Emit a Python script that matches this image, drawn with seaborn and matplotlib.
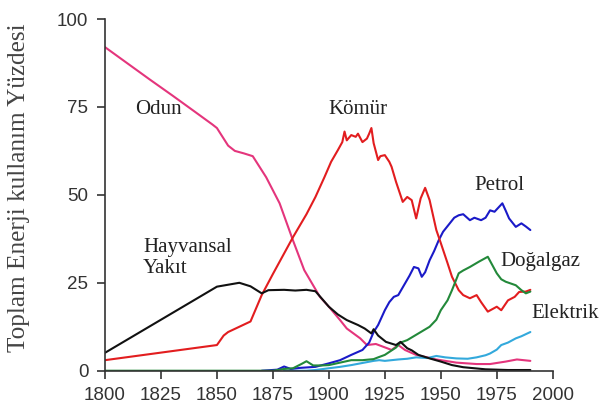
import pandas as pd
import matplotlib
matplotlib.use("Agg")
import matplotlib.pyplot as plt
import seaborn as sns

# Odun (wood)
odun_years = [1800, 1810, 1820, 1830, 1840, 1848, 1850, 1855, 1858, 1862, 1866, 1872,
              1878, 1884, 1889, 1896, 1900, 1905, 1908, 1914, 1917, 1921, 1926, 1928,
              1931, 1934, 1939, 1948, 1957, 1966, 1972, 1979, 1984, 1990]
odun_vals = [92, 87.4, 82.8, 78.3, 73.7, 70, 69, 64, 62.5, 61.8, 61, 55,
             47.6, 37, 28.6, 21, 18.2, 14.4, 12, 9.2, 7.3, 7.6, 6.4, 5.9,
             7.3, 5.9, 4.5, 3.2, 2.3, 1.9, 1.9, 2.6, 3.2, 2.8]

# Komur (coal)
komur_years = [1800, 1850, 1853, 1855, 1860, 1865, 1870, 1875, 1878, 1884, 1890, 1894,
               1898, 1901, 1904, 1906, 1907, 1908, 1910, 1912, 1913, 1915, 1917, 1918,
               1919, 1920, 1922, 1923, 1925, 1927, 1928, 1930, 1933, 1935, 1937, 1939,
               1941, 1943, 1945, 1948, 1950, 1953, 1955, 1958, 1960, 1963, 1966, 1968,
               1971, 1975, 1977, 1980, 1983, 1985, 1988, 1990]
komur_vals = [3, 7.3, 10, 11, 12.5, 14, 21.5, 27.5, 31, 38, 44.5, 49.4,
              55, 59.4, 62.7, 65, 68, 65.5, 67, 66.5, 67.4, 65, 66, 67.4,
              69, 64.7, 59.9, 61, 61.3, 59.4, 58, 53.7, 48, 49.4, 48.5, 43.3,
              49, 52, 48.5, 40, 36.3, 30.6, 26.7, 22.9, 21.5, 20.6, 21.5, 19.5,
              16.8, 18.2, 17.2, 20, 21, 22.4, 22.5, 23]

# Hayvansal yakit (animal feed)
hayvan_years = [1800, 1850, 1860, 1865, 1870, 1873, 1880, 1885, 1890, 1894, 1900, 1904,
                1908, 1913, 1916, 1919, 1920, 1922, 1925.5, 1930, 1932, 1935, 1937,
                1940, 1945, 1950, 1955, 1960, 1970, 1980, 1990]
hayvan_vals = [5.1, 23.9, 25, 24, 22, 22.9, 23, 22.8, 23, 22.6, 18.2, 16,
               14.4, 13, 12, 10.6, 11.8, 10, 8.2, 7.3, 8.2, 6.4, 5.8,
               4.5, 3.5, 2.6, 1.6, 1, 0.4, 0.2, 0.2]

# Petrol (oil)
petrol_years = [1870, 1877, 1880, 1883, 1887, 1894, 1900, 1905, 1910, 1915, 1918, 1920,
                1922, 1925, 1927, 1929, 1931, 1934, 1936, 1938, 1940, 1941.5, 1943, 1945,
                1947, 1949, 1951, 1954, 1956, 1958, 1960, 1963, 1965, 1968, 1970, 1972,
                1974, 1977.5, 1979, 1980.5, 1983.5, 1986, 1988, 1990]
petrol_vals = [0, 0.3, 1.2, 0.5, 0.8, 1.1, 2.1, 3, 4.5, 5.9, 8, 11,
               13, 17.2, 19.5, 21, 21.5, 24.8, 27, 29.5, 29.1, 26.7, 28, 31.4,
               34, 37, 39.5, 41.9, 43.5, 44.2, 44.5, 42.8, 43.5, 42.8, 43.5, 45.6,
               45.2, 47.6, 45.5, 43.3, 40.9, 41.9, 41, 40]

# Dogalgaz (natural gas)
gaz_years = [1800, 1875, 1880, 1884, 1888, 1890, 1893, 1897, 1900, 1905, 1910, 1915,
             1920, 1922, 1925, 1930, 1932, 1935, 1940, 1945, 1948, 1950, 1953, 1955,
             1958, 1960, 1963, 1967, 1971, 1975, 1977, 1979, 1983.5, 1986, 1988, 1990]
gaz_vals = [0, 0, 0.5, 0.7, 2, 2.7, 1.5, 1.5, 1.6, 2.3, 3, 3,
            3.3, 3.8, 4.5, 6.6, 8, 8.7, 10.6, 12.5, 14.5, 17.2, 20, 22.9,
            27.7, 28.5, 29.5, 31, 32.4, 27.7, 26, 25.3, 24.3, 22.9, 22, 22.5]

# Elektrik (electricity)
elektrik_years = [1880, 1890, 1894, 1900, 1905, 1910, 1915, 1920, 1922.5, 1925, 1931, 1935,
                  1939, 1944, 1948, 1952, 1957, 1962, 1966, 1970, 1972, 1975, 1977, 1980,
                  1983.5, 1986, 1990]
elektrik_vals = [0, 0, 0.2, 0.7, 1.1, 1.6, 2.2, 2.8, 3, 2.8, 3.2, 3.4,
                 3.8, 3.6, 4.2, 3.8, 3.5, 3.4, 3.8, 4.4, 4.9, 6, 7.3, 8,
                 9.2, 9.8, 11]

# drawing order matters a bit for the overlaps
series = [
    ("Odun", odun_years, odun_vals),
    ("Elektrik", elektrik_years, elektrik_vals),
    ("Petrol", petrol_years, petrol_vals),
    ("Kömür", komur_years, komur_vals),
    ("Doğalgaz", gaz_years, gaz_vals),
    ("Hayvansal Yakıt", hayvan_years, hayvan_vals),
]

palette = {
    "Odun": "#e4357c",
    "Elektrik": "#33a9dc",
    "Petrol": "#1a1ac8",
    "Kömür": "#e21d1f",
    "Doğalgaz": "#23893a",
    "Hayvansal Yakıt": "#111111",
}


def build_frame():
    """Long-form table, one row per point."""
    frames = []
    for name, years, vals in series:
        frames.append(pd.DataFrame({"Yil": years, "Yuzde": vals, "Kaynak": name}))
    return pd.concat(frames, ignore_index=True)


def plot_energy(data):
    sns.set_style("ticks")
    plt.rcParams["font.family"] = ["Liberation Sans", "DejaVu Sans"]

    fig = plt.figure(figsize=(6.01, 4.15), dpi=100)
    ax = fig.add_axes([0.1747, 0.1067, 0.745, 0.8475])

    sns.lineplot(data=data, x="Yil", y="Yuzde", hue="Kaynak",
                 hue_order=[s[0] for s in series], palette=palette,
                 linewidth=1.5, legend=False, ax=ax, estimator=None, sort=False)

    ax.set_xlim(1800, 2000)
    ax.set_ylim(0, 100)
    ax.set_xticks(range(1800, 2001, 25))
    ax.set_yticks(range(0, 101, 25))
    ax.tick_params(axis="both", length=6, width=1.2, labelsize=13.5,
                   colors="#333333", pad=6)
    ax.set_xlabel("")
    ax.set_ylabel("Toplam Enerji kullanım Yüzdesi", family=["Liberation Serif"],
                  fontsize=18.2, color="#444444")
    # right edge of the rotated label sits about 29 px from the figure edge
    ax.yaxis.set_label_coords(-0.168, 0.52)
    for side in ["top", "right"]:
        ax.spines[side].set_visible(False)
    for side in ["left", "bottom"]:
        ax.spines[side].set_color("#333333")
        ax.spines[side].set_linewidth(1.2)

    # series labels
    serif = dict(family=["Liberation Serif"], fontsize=15, color="#222222")
    ax.text(1824, 74.3, "Odun", ha="center", va="center", **serif)
    ax.text(1913, 74.3, "Kömür", ha="center", va="center", **serif)
    ax.text(1976, 52.8, "Petrol", ha="center", va="center", **serif)
    ax.text(1817, 32, "Hayvansal\nYakıt", ha="left", va="center",
            linespacing=1.15, **serif)
    ax.text(1994.7, 31.0, "Doğalgaz", ha="center", va="center", clip_on=False, **serif)
    ax.text(2005.4, 16.3, "Elektrik", ha="center", va="center", clip_on=False, **serif)

    fig.savefig("out.png", dpi=100)


def main():
    data = build_frame()
    plot_energy(data)


if __name__ == "__main__":
    main()
